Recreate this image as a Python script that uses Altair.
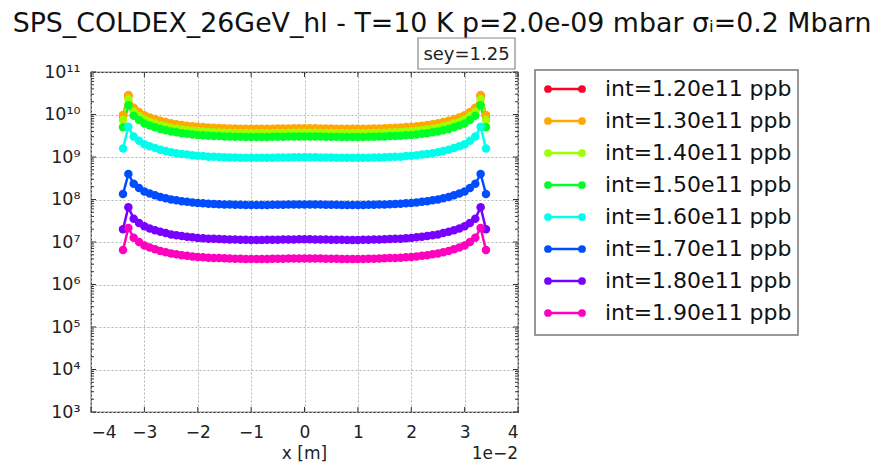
import altair as alt
import pandas as pd

FONT = "DejaVu Sans"

# x positions (units of 1e-2 m)
x_pos = [-3.4, -3.3, -3.2, -3.1, -3.0, -2.9, -2.8, -2.7, -2.6, -2.5,
         -2.4, -2.3, -2.2, -2.1, -2.0, -1.9, -1.8, -1.7, -1.6, -1.5,
         -1.4, -1.3, -1.2, -1.1, -1.0, -0.9, -0.8, -0.7, -0.6, -0.5,
         -0.4, -0.3, -0.2, -0.1, 0.0, 0.1, 0.2, 0.3, 0.4, 0.5,
         0.6, 0.7, 0.8, 0.9, 1.0, 1.1, 1.2, 1.3, 1.4, 1.5,
         1.6, 1.7, 1.8, 1.9, 2.0, 2.1, 2.2, 2.3, 2.4, 2.5,
         2.6, 2.7, 2.8, 2.9, 3.0, 3.1, 3.2, 3.3, 3.4]

labels = ["int=1.20e11 ppb", "int=1.30e11 ppb", "int=1.40e11 ppb", "int=1.50e11 ppb",
          "int=1.60e11 ppb", "int=1.70e11 ppb", "int=1.80e11 ppb", "int=1.90e11 ppb"]
colors = ["#ff0029", "#ffa900", "#9eff00", "#00ff27",
          "#00ffeb", "#004dff", "#7800ff", "#ff00bf"]

red = [9.33e9, 27.5e9, 13.9e9, 11.0e9, 9.20e9, 8.18e9, 7.48e9, 6.82e9, 6.38e9, 5.94e9,
       5.68e9, 5.41e9, 5.24e9, 5.06e9, 4.93e9, 4.84e9, 4.71e9, 4.66e9, 4.62e9, 4.55e9,
       4.50e9, 4.47e9, 4.44e9, 4.42e9, 4.40e9, 4.40e9, 4.41e9, 4.42e9, 4.44e9, 4.46e9,
       4.48e9, 4.50e9, 4.52e9, 4.53e9, 4.55e9,
       4.53e9, 4.52e9, 4.50e9, 4.48e9, 4.46e9, 4.44e9, 4.42e9, 4.41e9, 4.40e9, 4.40e9,
       4.42e9, 4.44e9, 4.47e9, 4.50e9, 4.55e9, 4.62e9, 4.66e9, 4.71e9, 4.84e9, 4.93e9,
       5.06e9, 5.24e9, 5.41e9, 5.68e9, 5.94e9, 6.38e9, 6.82e9, 7.48e9, 8.18e9, 9.20e9,
       11.0e9, 13.9e9, 27.5e9, 9.33e9]

orange = [9.77e9, 28.8e9, 14.5e9, 11.5e9, 9.61e9, 8.56e9, 7.82e9, 7.13e9, 6.67e9, 6.21e9,
          5.93e9, 5.66e9, 5.47e9, 5.29e9, 5.15e9, 5.06e9, 4.92e9, 4.88e9, 4.83e9, 4.76e9,
          4.71e9, 4.67e9, 4.64e9, 4.62e9, 4.60e9, 4.60e9, 4.61e9, 4.62e9, 4.64e9, 4.66e9,
          4.69e9, 4.71e9, 4.73e9, 4.74e9, 4.75e9,
          4.74e9, 4.73e9, 4.71e9, 4.69e9, 4.66e9, 4.64e9, 4.62e9, 4.61e9, 4.60e9, 4.60e9,
          4.62e9, 4.64e9, 4.67e9, 4.71e9, 4.76e9, 4.83e9, 4.88e9, 4.92e9, 5.06e9, 5.15e9,
          5.29e9, 5.47e9, 5.66e9, 5.93e9, 6.21e9, 6.67e9, 7.13e9, 7.82e9, 8.56e9, 9.61e9,
          11.5e9, 14.5e9, 28.8e9, 9.77e9]

lime = [7.41e9, 22.9e9, 11.4e9, 9.04e9, 7.52e9, 6.70e9, 6.12e9, 5.58e9, 5.22e9, 4.86e9,
        4.64e9, 4.43e9, 4.28e9, 4.14e9, 4.03e9, 3.96e9, 3.85e9, 3.82e9, 3.78e9, 3.73e9,
        3.68e9, 3.66e9, 3.63e9, 3.62e9, 3.60e9, 3.60e9, 3.61e9, 3.62e9, 3.63e9, 3.65e9,
        3.67e9, 3.68e9, 3.70e9, 3.71e9, 3.72e9,
        3.71e9, 3.70e9, 3.68e9, 3.67e9, 3.65e9, 3.63e9, 3.62e9, 3.61e9, 3.60e9, 3.60e9,
        3.62e9, 3.63e9, 3.66e9, 3.68e9, 3.73e9, 3.78e9, 3.82e9, 3.85e9, 3.96e9, 4.03e9,
        4.14e9, 4.28e9, 4.43e9, 4.64e9, 4.86e9, 5.22e9, 5.58e9, 6.12e9, 6.70e9, 7.52e9,
        9.04e9, 11.4e9, 22.9e9, 7.41e9]

green = [5.01e9, 16.6e9, 9.32e9, 7.40e9, 6.17e9, 5.49e9, 5.02e9, 4.57e9, 4.28e9, 3.98e9,
         3.81e9, 3.63e9, 3.51e9, 3.39e9, 3.30e9, 3.25e9, 3.16e9, 3.13e9, 3.10e9, 3.05e9,
         3.02e9, 3.00e9, 2.98e9, 2.96e9, 2.95e9, 2.95e9, 2.96e9, 2.96e9, 2.98e9, 2.99e9,
         3.01e9, 3.02e9, 3.03e9, 3.04e9, 3.05e9,
         3.04e9, 3.03e9, 3.02e9, 3.01e9, 2.99e9, 2.98e9, 2.96e9, 2.96e9, 2.95e9, 2.95e9,
         2.96e9, 2.98e9, 3.00e9, 3.02e9, 3.05e9, 3.10e9, 3.13e9, 3.16e9, 3.25e9, 3.30e9,
         3.39e9, 3.51e9, 3.63e9, 3.81e9, 3.98e9, 4.28e9, 4.57e9, 5.02e9, 5.49e9, 6.17e9,
         7.40e9, 9.32e9, 16.6e9, 5.01e9]

cyan = [15.8e8, 51.3e8, 30.2e8, 24.0e8, 20.0e8, 17.8e8, 16.2e8, 14.8e8, 13.8e8, 12.9e8,
        12.3e8, 11.7e8, 11.4e8, 11.0e8, 10.7e8, 10.5e8, 10.2e8, 10.1e8, 10.0e8, 9.88e8,
        9.77e8, 9.70e8, 9.64e8, 9.60e8, 9.55e8, 9.55e8, 9.57e8, 9.60e8, 9.64e8, 9.68e8,
        9.73e8, 9.77e8, 9.82e8, 9.84e8, 9.87e8,
        9.84e8, 9.82e8, 9.77e8, 9.73e8, 9.68e8, 9.64e8, 9.60e8, 9.57e8, 9.55e8, 9.55e8,
        9.60e8, 9.64e8, 9.70e8, 9.77e8, 9.88e8, 10.0e8, 10.1e8, 10.2e8, 10.5e8, 10.7e8,
        11.0e8, 11.4e8, 11.7e8, 12.3e8, 12.9e8, 13.8e8, 14.8e8, 16.2e8, 17.8e8, 20.0e8,
        24.0e8, 30.2e8, 51.3e8, 15.8e8]

blue = [13.5e7, 39.8e7, 23.4e7, 18.6e7, 15.5e7, 13.8e7, 12.6e7, 11.5e7, 10.7e7, 10.0e7,
        9.56e7, 9.11e7, 8.82e7, 8.52e7, 8.30e7, 8.15e7, 7.93e7, 7.85e7, 7.78e7, 7.67e7,
        7.58e7, 7.53e7, 7.48e7, 7.45e7, 7.41e7, 7.41e7, 7.42e7, 7.45e7, 7.48e7, 7.51e7,
        7.55e7, 7.58e7, 7.62e7, 7.63e7, 7.65e7,
        7.63e7, 7.62e7, 7.58e7, 7.55e7, 7.51e7, 7.48e7, 7.45e7, 7.42e7, 7.41e7, 7.41e7,
        7.45e7, 7.48e7, 7.53e7, 7.58e7, 7.67e7, 7.78e7, 7.85e7, 7.93e7, 8.15e7, 8.30e7,
        8.52e7, 8.82e7, 9.11e7, 9.56e7, 10.0e7, 10.7e7, 11.5e7, 12.6e7, 13.8e7, 15.5e7,
        18.6e7, 23.4e7, 39.8e7, 13.5e7]

purple = [2.00e7, 6.61e7, 3.54e7, 2.81e7, 2.34e7, 2.08e7, 1.90e7, 1.74e7, 1.62e7, 1.51e7,
          1.44e7, 1.38e7, 1.33e7, 1.29e7, 1.25e7, 1.23e7, 1.20e7, 1.19e7, 1.18e7, 1.16e7,
          1.146e7, 1.138e7, 1.130e7, 1.126e7, 1.120e7, 1.120e7, 1.122e7, 1.126e7, 1.130e7, 1.136e7,
          1.141e7, 1.146e7, 1.151e7, 1.154e7, 1.157e7,
          1.154e7, 1.151e7, 1.146e7, 1.141e7, 1.136e7, 1.130e7, 1.126e7, 1.122e7, 1.120e7, 1.120e7,
          1.126e7, 1.130e7, 1.138e7, 1.146e7, 1.16e7, 1.18e7, 1.19e7, 1.20e7, 1.23e7, 1.25e7,
          1.29e7, 1.33e7, 1.38e7, 1.44e7, 1.51e7, 1.62e7, 1.74e7, 1.90e7, 2.08e7, 2.34e7,
          2.81e7, 3.54e7, 6.61e7, 2.00e7]

pink = [6.46e6, 21.4e6, 12.6e6, 9.99e6, 8.32e6, 7.40e6, 6.77e6, 6.17e6, 5.77e6, 5.37e6,
        5.13e6, 4.90e6, 4.74e6, 4.58e6, 4.46e6, 4.38e6, 4.26e6, 4.22e6, 4.18e6, 4.12e6,
        4.07e6, 4.04e6, 4.02e6, 4.00e6, 3.98e6, 3.98e6, 3.99e6, 4.00e6, 4.02e6, 4.04e6,
        4.06e6, 4.07e6, 4.09e6, 4.10e6, 4.11e6,
        4.10e6, 4.09e6, 4.07e6, 4.06e6, 4.04e6, 4.02e6, 4.00e6, 3.99e6, 3.98e6, 3.98e6,
        4.00e6, 4.02e6, 4.04e6, 4.07e6, 4.12e6, 4.18e6, 4.22e6, 4.26e6, 4.38e6, 4.46e6,
        4.58e6, 4.74e6, 4.90e6, 5.13e6, 5.37e6, 5.77e6, 6.17e6, 6.77e6, 7.40e6, 8.32e6,
        9.99e6, 12.6e6, 21.4e6, 6.46e6]

x_ticks = [-4, -3, -2, -1, 0, 1, 2, 3, 4]
y_decades = [3, 4, 5, 6, 7, 8, 9, 10, 11]
y_minor_mult = [2, 3, 4, 5, 6, 7, 8, 9]

title_text = "SPS_COLDEX_26GeV_hl - T=10 K p=2.0e-09 mbar \u03c3\u1d62=0.2 Mbarn"
sey_text = "sey=1.25"

W, H = 427, 340

series = [red, orange, lime, green, cyan, blue, purple, pink]
rows = []
for i, (lab, vals) in enumerate(zip(labels, series)):
    for xv, yv in zip(x_pos, vals):
        rows.append({"x": xv, "y": yv, "series": lab, "idx": i})
df = pd.DataFrame(rows)

sup = {3: "\u00b3", 4: "\u2074", 5: "\u2075", 6: "\u2076", 7: "\u2077",
       8: "\u2078", 9: "\u2079", 10: "\u00b9\u2070", 11: "\u00b9\u00b9"}
expr = "''"
for e in sorted(sup):
    expr = f"(round(log(datum.value)/LN10)=={e} ? '{sup[e]}' : {expr})"
label_expr = "'10' + " + expr

xscale = alt.Scale(domain=[-4, 4], nice=False, zero=False)
yscale = alt.Scale(type="log", domain=[1e3, 1e11], nice=False)
color = alt.Color("series:N", scale=alt.Scale(domain=labels, range=colors), legend=None)

xaxis = alt.Axis(values=x_ticks, format="d", grid=True, gridDash=[2, 2], gridColor="#b5b5b5",
                 gridWidth=1, tickSize=0, domain=False, labelFontSize=17, labelFont=FONT,
                 labelColor="#222", labelPadding=12, title=None)
yaxis = alt.Axis(values=[10 ** e for e in y_decades], labelExpr=label_expr, grid=True,
                 gridDash=[2, 2], gridColor="#b5b5b5", gridWidth=1, tickSize=0, domain=False,
                 labelFontSize=17.5, labelFont=FONT, labelColor="#222", labelPadding=11, title=None)

base = alt.Chart(df)
lines = base.mark_line(strokeWidth=2.5).encode(
    x=alt.X("x:Q", scale=xscale, axis=xaxis),
    y=alt.Y("y:Q", scale=yscale, axis=yaxis),
    color=color,
)
points = base.mark_circle(size=72, opacity=1).encode(
    x="x:Q", y="y:Q", color=color, order=alt.Order("idx:Q"),
)

# inward ticks
major_y = pd.DataFrame({"v": [10 ** e for e in y_decades]})
minor_y = pd.DataFrame({"v": [m * 10 ** e for e in y_decades[:-1] for m in y_minor_mult]})
tick_x = pd.DataFrame({"v": x_ticks})

def yticks(d, length):
    left = alt.Chart(d).mark_rule(color="#333", strokeWidth=1).encode(
        y="v:Q", x=alt.value(0), x2=alt.value(length))
    right = alt.Chart(d).mark_rule(color="#333", strokeWidth=1).encode(
        y="v:Q", x=alt.value(W - length), x2=alt.value(W))
    return left + right

xt_bottom = alt.Chart(tick_x).mark_rule(color="#333", strokeWidth=1).encode(
    x="v:Q", y=alt.value(H - 5), y2=alt.value(H))
xt_top = alt.Chart(tick_x).mark_rule(color="#333", strokeWidth=1).encode(
    x="v:Q", y=alt.value(0), y2=alt.value(5))

one = pd.DataFrame({"k": [0]})
title = alt.Chart(one).mark_text(text=title_text, fontSize=26.8, font=FONT, color="#111",
                                 align="center", baseline="alphabetic").encode(
    x=alt.value(351), y=alt.value(-40))
sey_box = alt.Chart(one).mark_rect(fill="white", stroke="#888", strokeWidth=1.2).encode(
    x=alt.value(327), x2=alt.value(424), y=alt.value(-34), y2=alt.value(-3))
sey = alt.Chart(one).mark_text(text=sey_text, fontSize=18, font=FONT, color="#222",
                               align="center", baseline="alphabetic").encode(
    x=alt.value(375.5), y=alt.value(-12))
xlabel = alt.Chart(one).mark_text(text="x [m]", fontSize=17, font=FONT, color="#222",
                                  align="center", baseline="alphabetic").encode(
    x=alt.value(W / 2), y=alt.value(387))
offset = alt.Chart(one).mark_text(text="1e\u22122", fontSize=17, font=FONT, color="#222",
                                  align="right", baseline="alphabetic").encode(
    x=alt.value(W), y=alt.value(387))

# legend
leg = pd.DataFrame({"series": labels, "idx": list(range(len(labels)))})
legbase = alt.Chart(leg).transform_calculate(ypix="17 + datum.idx * 32")
leg_box = alt.Chart(one).mark_rect(fill="white", stroke="#777", strokeWidth=1.5).encode(
    x=alt.value(444), x2=alt.value(707), y=alt.value(-2), y2=alt.value(263))
leg_line = legbase.mark_rule(strokeWidth=2.5).encode(
    y=alt.Y("ypix:Q", scale=None), x=alt.value(457), x2=alt.value(491), color=color)
leg_p1 = legbase.mark_circle(size=60, opacity=1).encode(
    y=alt.Y("ypix:Q", scale=None), x=alt.value(457), color=color)
leg_p2 = legbase.mark_circle(size=60, opacity=1).encode(
    y=alt.Y("ypix:Q", scale=None), x=alt.value(491), color=color)
leg_text = legbase.mark_text(fontSize=22, font=FONT, color="#111", align="left",
                             baseline="middle").encode(
    y=alt.Y("ypix:Q", scale=None), x=alt.value(514), text="series:N")

chart = alt.layer(
    lines, points, yticks(major_y, 5), yticks(minor_y, 3), xt_bottom, xt_top,
    title, sey_box, sey, xlabel, offset,
    leg_box, leg_line, leg_p1, leg_p2, leg_text,
).properties(
    width=W, height=H,
    padding={"left": 83, "top": 64, "right": 357, "bottom": 50},
    autosize=alt.AutoSizeParams(type="none"),
    background="white",
).configure_view(stroke="#333", strokeWidth=1.2)

chart.save("out.html", embed_options={"renderer": "svg", "actions": False})
